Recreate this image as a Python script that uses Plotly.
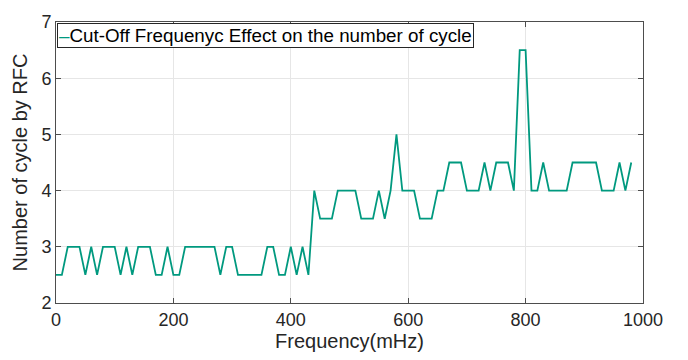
import plotly.graph_objects as go

freq = list(range(0, 990, 10))
cycles = [
    2.5, 2.5, 3, 3, 3, 2.5, 3, 2.5, 3, 3,          # 0-90
    3, 2.5, 3, 2.5, 3, 3, 3, 2.5, 2.5, 3,          # 100-190
    2.5, 2.5, 3, 3, 3, 3, 3, 3, 2.5, 3,            # 200-290
    3, 2.5, 2.5, 2.5, 2.5, 2.5, 3, 3, 2.5, 2.5,    # 300-390
    3, 2.5, 3, 2.5, 4, 3.5, 3.5, 3.5, 4, 4,        # 400-490
    4, 4, 3.5, 3.5, 3.5, 4, 3.5, 4, 5, 4,          # 500-590
    4, 4, 3.5, 3.5, 3.5, 4, 4, 4.5, 4.5, 4.5,      # 600-690
    4, 4, 4, 4.5, 4, 4.5, 4.5, 4.5, 4, 6.5,        # 700-790
    6.5, 4, 4, 4.5, 4, 4, 4, 4, 4.5, 4.5,          # 800-890
    4.5, 4.5, 4.5, 4, 4, 4, 4.5, 4, 4.5,           # 900-980
]
x_ticks = [0, 200, 400, 600, 800, 1000]
y_ticks = [2, 3, 4, 5, 6, 7]
legend_label = "Cut-Off Frequenyc Effect on the number of cycle"

LINE = "#00997F"
FONT = "Liberation Sans, Arial, Helvetica, sans-serif"
TXT = "#262626"
AX = "#4D4D4D"

fig = go.Figure()
fig.add_trace(go.Scatter(x=freq, y=cycles, mode="lines",
                         line=dict(color=LINE, width=1.8),
                         name=legend_label, showlegend=False))

fig.add_annotation(
    xref="paper", yref="paper", x=0.002, y=0.998, xanchor="left", yanchor="top",
    text=f"<span style='color:{LINE}'>–</span>{legend_label}",
    showarrow=False, font=dict(family=FONT, size=18.8, color="#000000"),
    bordercolor="#262626", borderwidth=1, borderpad=1, bgcolor="white",
)

axis_common = dict(
    showline=True, linecolor=AX, linewidth=1, mirror="ticks",
    ticks="inside", ticklen=5, tickcolor=AX,
    showgrid=True, gridcolor="#E6E6E6", gridwidth=1, zeroline=False,
    tickfont=dict(family=FONT, size=18, color=TXT),
)

fig.update_xaxes(range=[0, 1000], tickvals=x_ticks,
                 title=dict(text="Frequency(mHz)", font=dict(family=FONT, size=20, color=TXT), standoff=4),
                 **axis_common)
fig.update_yaxes(range=[2, 7], tickvals=y_ticks,
                 title=dict(text="Number of cycle by RFC", font=dict(family=FONT, size=20, color=TXT), standoff=8),
                 **axis_common)

fig.update_layout(
    width=688, height=360,
    margin=dict(l=56, r=45, t=14, b=56),
    plot_bgcolor="white", paper_bgcolor="white",
    font=dict(family=FONT, color=TXT),
)

fig.write_html("out.html")
